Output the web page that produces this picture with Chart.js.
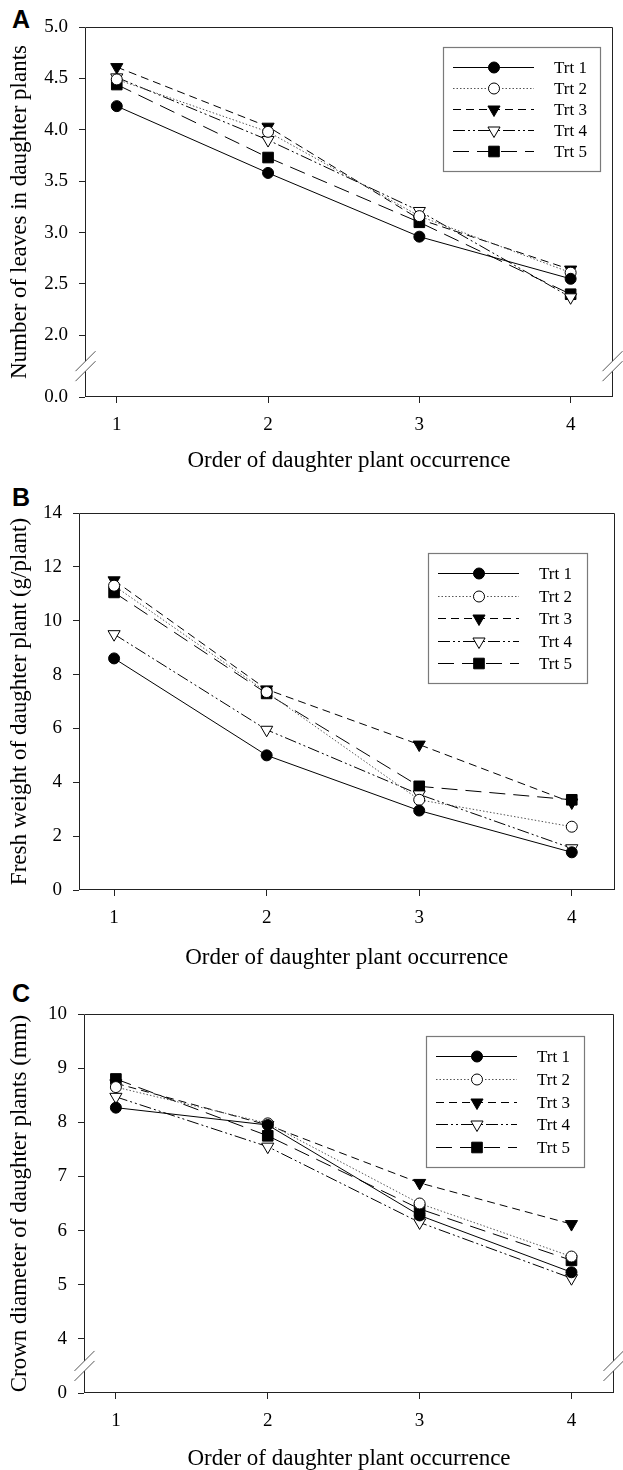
<!DOCTYPE html>
<html>
<head>
<meta charset="utf-8">
<script src="https://cdn.jsdelivr.net/npm/chart.js@4.4.0/dist/chart.umd.min.js"></script>
<style>
  body { margin: 0; background: #fff; width: 623px; height: 1470px; position: relative; overflow: hidden; }
  canvas { position: absolute; left: 0; }
  .tag { position: absolute; font: bold 25px "Liberation Sans", Arial, sans-serif; line-height: 25px; color: #000; }
</style>
</head>
<body>
<div class="tag" style="left:12px;top:7px">A</div>
<div class="tag" style="left:12px;top:485px">B</div>
<div class="tag" style="left:12px;top:981px">C</div>
<canvas id="chartA" width="623" height="490" style="top:0"></canvas>
<canvas id="chartB" width="623" height="490" style="top:490px"></canvas>
<canvas id="chartC" width="623" height="490" style="top:980px"></canvas>
<script>
// order of daughter plant occurrence
const orders = [1, 2, 3, 4];
const trtNames = ['Trt 1', 'Trt 2', 'Trt 3', 'Trt 4', 'Trt 5'];

// A - number of leaves
const leavesTrt1 = [4.23, 3.58, 2.96, 2.55];
const leavesTrt2 = [4.49, 3.98, 3.16, 2.61];
const leavesTrt3 = [4.61, 4.03, 3.13, 2.64];
const leavesTrt4 = [4.51, 3.90, 3.21, 2.37];
const leavesTrt5 = [4.44, 3.73, 3.10, 2.40];
const leavesTicks = [0, 2.0, 2.5, 3.0, 3.5, 4.0, 4.5, 5.0];

// B - fresh weight
const freshTrt1 = [8.6, 5.0, 2.95, 1.4];
const freshTrt2 = [11.3, 7.35, 3.35, 2.35];
const freshTrt3 = [11.5, 7.45, 5.4, 3.25];
const freshTrt4 = [9.5, 5.95, 3.55, 1.55];
const freshTrt5 = [11.05, 7.3, 3.85, 3.35];
const freshTicks = [0, 2, 4, 6, 8, 10, 12, 14];

// C - crown diameter
const crownTrt1 = [8.27, 7.95, 6.28, 5.23];
const crownTrt2 = [8.65, 7.98, 6.5, 5.52];
const crownTrt3 = [8.72, 7.95, 6.88, 6.12];
const crownTrt4 = [8.47, 7.55, 6.15, 5.12];
const crownTrt5 = [8.8, 7.75, 6.4, 5.45];
const crownTicks = [0, 4, 5, 6, 7, 8, 9, 10];

const serif = '"Liberation Serif", "Times New Roman", serif';

// linear scale with a broken (compressed) section between brk.lowMax and brk.highMin
class BrokenLinearScale extends Chart.LinearScale {
    virt(v) {
        const b = this.options.brk;
        if (!b || v <= b.lowMax) return v - this.min;
        return (b.lowMax - this.min) + Math.max(v - b.highMin, 0);
    }
    span() {
        const b = this.options.brk;
        return b ? (b.lowMax - this.min) + (this.max - b.highMin) : this.max - this.min;
    }
    getPixelForValue(value) {
        return this.bottom - this.virt(value) / this.span() * (this.bottom - this.top);
    }
    getValueForPixel(pixel) {
        const t = (this.bottom - pixel) / (this.bottom - this.top) * this.span();
        const b = this.options.brk;
        if (!b) return this.min + t;
        const low = b.lowMax - this.min;
        return t <= low ? this.min + t : b.highMin + (t - low);
    }
    breakPixel() {
        return this.getPixelForValue(this.options.brk.lowMax);
    }
}
BrokenLinearScale.id = 'brokenLinear';
BrokenLinearScale.defaults = {};
Chart.register(BrokenLinearScale);

// box around the plot, with the break marks
const framePlugin = {
    id: 'frame',
    afterDraw(chart) {
        const ctx = chart.ctx;
        const a = chart.chartArea;
        const ys = chart.scales.y;
        const L = Math.round(a.left) + 0.5, R = Math.round(a.right) - 0.5;
        const T = Math.round(a.top) + 0.5, B = Math.round(a.bottom) - 0.5;
        ctx.save();
        ctx.strokeStyle = '#222';
        ctx.lineWidth = 1;
        ctx.beginPath();
        ctx.moveTo(L, T); ctx.lineTo(R, T);
        ctx.moveTo(L - 0.5, B); ctx.lineTo(R + 0.5, B);
        if (ys.options.brk) {
            const s = ys.breakPixel(), g = 5;
            [L, R].forEach(x => {
                ctx.moveTo(x, T); ctx.lineTo(x, s - g);
                ctx.moveTo(x, s + g); ctx.lineTo(x, B);
            });
            ctx.stroke();
            ctx.strokeStyle = '#555';
            ctx.beginPath();
            [L, R].forEach(x => {
                [-g, g].forEach(d => {
                    ctx.moveTo(x - 10, s + d + 10);
                    ctx.lineTo(x + 10, s + d - 10);
                });
            });
        } else {
            ctx.moveTo(L, T); ctx.lineTo(L, B);
            ctx.moveTo(R, T); ctx.lineTo(R, B);
        }
        ctx.stroke();
        ctx.restore();
    }
};

// legend box: line sample with the marker in the middle
const boxLegend = {
    id: 'boxLegend',
    afterDraw(chart, args, opts) {
        const ctx = chart.ctx;
        const {left, top, width, height} = opts;
        ctx.save();
        ctx.fillStyle = '#fff';
        ctx.fillRect(left, top, width, height);
        ctx.strokeStyle = '#7a7a7a';
        ctx.lineWidth = 1.2;
        ctx.strokeRect(left + 0.5, top + 0.5, width, height);
        const dsets = chart.data.datasets;
        const step = (height - 40) / (dsets.length - 1);
        dsets.forEach((ds, i) => {
            const y = Math.round(top + 20 + i * step) + 0.5;
            const x0 = left + 10, x1 = left + 91, xm = left + 51;
            ctx.setLineDash(ds.borderDash);
            ctx.strokeStyle = ds.borderColor;
            ctx.lineWidth = ds.borderWidth;
            ctx.beginPath();
            ctx.moveTo(x0, y); ctx.lineTo(x1, y);
            ctx.stroke();
            ctx.setLineDash([]);
            ctx.fillStyle = ds.pointBackgroundColor;
            ctx.strokeStyle = '#000';
            ctx.lineWidth = 1;
            Chart.helpers.drawPoint(ctx, {
                pointStyle: ds.pointStyle, radius: ds.pointRadius,
                rotation: ds.pointRotation, borderWidth: 1
            }, xm, y);
            ctx.fillStyle = '#000';
            ctx.font = '17px ' + serif;
            ctx.textBaseline = 'middle';
            ctx.textAlign = 'left';
            ctx.fillText(ds.label, left + 111, y + 1);
        });
        ctx.restore();
    }
};

const estilos = [
    {dash: [], point: 'circle', r: 5.5, rot: 0, fill: '#000', line: '#000'},
    {dash: [1.5, 2], point: 'circle', r: 5.5, rot: 0, fill: '#fff', line: '#555'},
    {dash: [8, 5], point: 'triangle', r: 7, rot: 180, fill: '#000', line: '#000'},
    {dash: [12, 3, 2, 3, 2, 3], point: 'triangle', r: 7, rot: 180, fill: '#fff', line: '#000'},
    {dash: [16, 8], point: 'rect', r: 7.5, rot: 0, fill: '#000', line: '#000'}
];

function serie(i, valores) {
    const e = estilos[i];
    return {
        label: trtNames[i],
        data: orders.map((x, k) => ({x: x, y: valores[k]})),
        borderColor: e.line,
        borderWidth: 1,
        borderDash: e.dash,
        pointStyle: e.point,
        pointRadius: e.r,
        pointRotation: e.rot,
        pointBackgroundColor: e.fill,
        pointBorderColor: '#000',
        pointBorderWidth: 1,
        fill: false,
        tension: 0,
        clip: false
    };
}

function criarPainel(id, cfg) {
    const ctx = document.getElementById(id).getContext('2d');
    return new Chart(ctx, {
        type: 'line',
        data: {datasets: cfg.series.map((v, i) => serie(i, v))},
        plugins: [framePlugin, boxLegend],
        options: {
            responsive: false,
            animation: false,
            layout: {padding: {top: cfg.top, right: cfg.right, left: 0, bottom: 0}},
            plugins: {
                legend: {display: false},
                tooltip: {enabled: false},
                boxLegend: cfg.legend
            },
            scales: {
                x: {
                    type: 'linear',
                    min: cfg.xMin,
                    max: 4.28,
                    afterBuildTicks: s => { s.ticks = orders.map(v => ({value: v})); },
                    afterFit: s => { s.height = cfg.xHeight; },
                    border: {display: false},
                    grid: {drawOnChartArea: false, drawTicks: true, tickLength: 6, color: '#222'},
                    ticks: {
                        autoSkip: false, maxRotation: 0, padding: 11, color: '#000',
                        font: {family: serif, size: 19},
                        callback: v => String(v)
                    },
                    title: {
                        display: true, text: 'Order of daughter plant occurrence', color: '#000',
                        font: {family: serif, size: 23, lineHeight: 1},
                        padding: {top: 0, bottom: cfg.xTitlePad}
                    }
                },
                y: {
                    type: 'brokenLinear',
                    min: 0,
                    max: cfg.yMax,
                    brk: cfg.brk,
                    afterBuildTicks: s => { s.ticks = cfg.ticks.map(v => ({value: v})); },
                    afterFit: s => { s.width = cfg.yWidth; },
                    border: {display: false},
                    grid: {drawOnChartArea: false, drawTicks: true, tickLength: 6, color: '#222'},
                    ticks: {
                        autoSkip: false, padding: 11, color: '#000',
                        font: {family: serif, size: 19},
                        callback: cfg.fmt
                    },
                    title: {
                        display: true, text: cfg.yTitle, color: '#000',
                        font: {family: serif, size: 23, lineHeight: 1.2},
                        padding: {top: 6, bottom: 0}
                    }
                }
            }
        }
    });
}

criarPainel('chartA', {
    series: [leavesTrt1, leavesTrt2, leavesTrt3, leavesTrt4, leavesTrt5],
    ticks: leavesTicks, yMax: 5, brk: {lowMax: 0.3, highMin: 1.7},
    fmt: v => v.toFixed(1),
    yTitle: 'Number of leaves in daughter plants',
    top: 27, right: 10, yWidth: 85, xHeight: 93, xMin: 0.79, xTitlePad: 18,
    legend: {left: 443, top: 47, width: 157, height: 124}
});

criarPainel('chartB', {
    series: [freshTrt1, freshTrt2, freshTrt3, freshTrt4, freshTrt5],
    ticks: freshTicks, yMax: 14, brk: null,
    fmt: v => String(v),
    yTitle: 'Fresh weight of daughter plant (g/plant)',
    top: 23, right: 8, yWidth: 79, xHeight: 90, xMin: 0.77, xTitlePad: 11,
    legend: {left: 428, top: 63, width: 159, height: 130}
});

criarPainel('chartC', {
    series: [crownTrt1, crownTrt2, crownTrt3, crownTrt4, crownTrt5],
    ticks: crownTicks, yMax: 10, brk: {lowMax: 0.5, highMin: 3.5},
    fmt: v => String(v),
    yTitle: 'Crown diameter of daughter plants (mm)',
    top: 34, right: 9, yWidth: 84, xHeight: 77, xMin: 0.79, xTitlePad: 0,
    legend: {left: 426, top: 56, width: 158, height: 131}
});
</script>
</body>
</html>
